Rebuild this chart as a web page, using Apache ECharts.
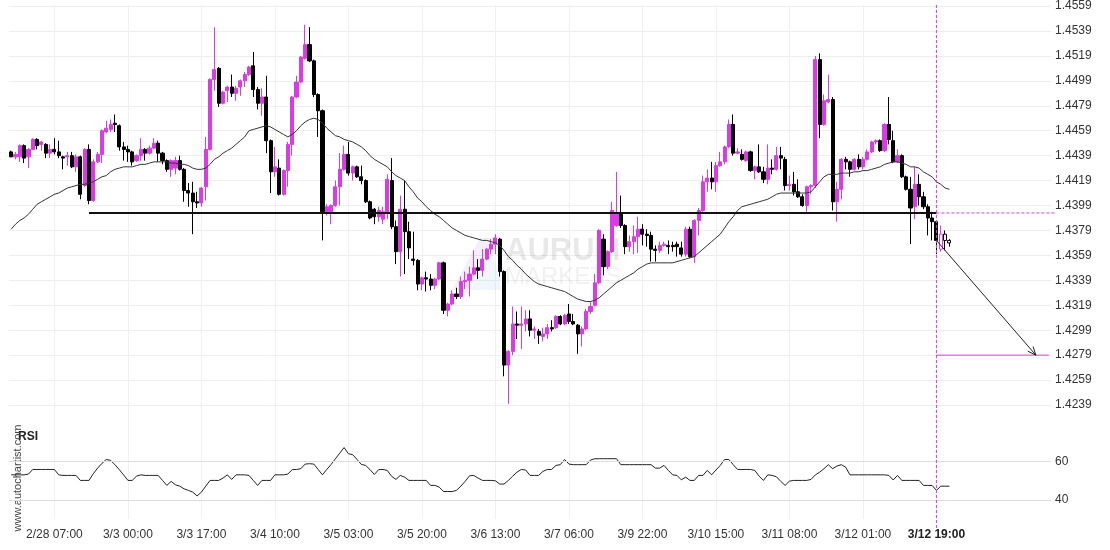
<!DOCTYPE html>
<html>
<head>
<meta charset="utf-8">
<script src="https://cdn.jsdelivr.net/npm/echarts@6/dist/echarts.min.js"></script>
<style>
html, body { margin: 0; padding: 0; background: #fff; }
#main { width: 1110px; height: 550px; }
</style>
</head>
<body>
<div id="main"></div>
<script>
// hourly candles, 2/27 21:00 .. 3/12 22:00
const openPrices = [
  1.4442,1.4438,1.4438,1.4447,1.4438,1.4444,1.4452,1.4448,1.4448,1.4441,
  1.4444,1.4442,1.4438,1.4438,1.4439,1.4430,1.4438,1.4415,1.4444,1.4403,
  1.4434,1.4440,1.4458,1.4460,1.4465,1.4463,1.4446,1.4444,1.4442,1.4435,
  1.4439,1.4444,1.4441,1.4445,1.4449,1.4441,1.4435,1.4428,1.4429,1.4435,
  1.4428,1.4411,1.4409,1.4402,1.4401,1.4414,1.4444,1.4500,1.4509,1.4481,
  1.4491,1.4494,1.4489,1.4494,1.4499,1.4504,1.4511,1.4492,1.4481,1.4486,
  1.4451,1.4426,1.4429,1.4408,1.4427,1.4448,1.4486,1.4498,1.4517,1.4528,
  1.4515,1.4488,1.4475,1.4394,1.4394,1.4399,1.4414,1.4428,1.4440,1.4425,
  1.4430,1.4422,1.4419,1.4402,1.4396,1.4390,1.4388,1.4394,1.4419,1.4382,
  1.4362,1.4396,1.4378,1.4356,1.4355,1.4336,1.4341,1.4340,1.4335,1.4340,
  1.4353,1.4315,1.4320,1.4328,1.4326,1.4338,1.4339,1.4344,1.4349,1.4347,
  1.4356,1.4364,1.4368,1.4372,1.4346,1.4271,1.4282,1.4304,1.4303,1.4304,
  1.4308,1.4299,1.4298,1.4294,1.4296,1.4301,1.4301,1.4310,1.4304,1.4312,
  1.4306,1.4303,1.4296,1.4300,1.4314,1.4319,1.4337,1.4372,1.4350,1.4362,
  1.4383,1.4392,1.4383,1.4366,1.4370,1.4374,1.4380,1.4376,1.4375,1.4364,
  1.4363,1.4367,1.4367,1.4367,1.4368,1.4365,1.4360,1.4380,1.4358,1.4387,
  1.4395,1.4418,1.4421,1.4418,1.4431,1.4434,1.4446,1.4464,1.4441,1.4440,
  1.4435,1.4442,1.4427,1.4430,1.4426,1.4420,1.4429,1.4428,1.4439,1.4436,
  1.4415,1.4416,1.4410,1.4406,1.4399,1.4414,1.4415,1.4516,1.4464,1.4482,
  1.4484,1.4402,1.4412,1.4436,1.4434,1.4428,1.4436,1.4430,1.4436,1.4442,
  1.4450,1.4451,1.4443,1.4464,1.4451,1.4434,1.4439,1.4422,1.4412,1.4398,
  1.4416,1.4406,1.4398,1.4389,1.4386,1.4364,1.4376,1.4371
];
const closePrices = [
  1.4438,1.4440,1.4447,1.4437,1.4444,1.4452,1.4447,1.4450,1.4441,1.4444,
  1.4442,1.4439,1.4437,1.4439,1.4430,1.4438,1.4408,1.4444,1.4403,1.4434,
  1.4440,1.4459,1.4461,1.4464,1.4464,1.4446,1.4444,1.4442,1.4434,1.4439,
  1.4444,1.4441,1.4445,1.4449,1.4441,1.4435,1.4428,1.4435,1.4435,1.4428,
  1.4411,1.4409,1.4402,1.4401,1.4413,1.4444,1.4500,1.4508,1.4481,1.4490,
  1.4494,1.4489,1.4493,1.4499,1.4504,1.4510,1.4492,1.4481,1.4486,1.4451,
  1.4426,1.4430,1.4408,1.4427,1.4448,1.4486,1.4498,1.4518,1.4528,1.4515,
  1.4488,1.4475,1.4394,1.4398,1.4399,1.4414,1.4428,1.4440,1.4425,1.4430,
  1.4422,1.4419,1.4402,1.4389,1.4390,1.4395,1.4394,1.4420,1.4382,1.4362,
  1.4396,1.4378,1.4365,1.4355,1.4336,1.4341,1.4340,1.4335,1.4340,1.4353,
  1.4315,1.4320,1.4328,1.4326,1.4338,1.4339,1.4344,1.4349,1.4347,1.4356,
  1.4364,1.4368,1.4373,1.4346,1.4271,1.4282,1.4304,1.4303,1.4304,1.4308,
  1.4299,1.4300,1.4295,1.4296,1.4301,1.4300,1.4310,1.4304,1.4311,1.4306,
  1.4304,1.4296,1.4300,1.4314,1.4318,1.4337,1.4379,1.4350,1.4362,1.4395,
  1.4392,1.4383,1.4366,1.4370,1.4374,1.4380,1.4376,1.4375,1.4364,1.4363,
  1.4367,1.4368,1.4366,1.4366,1.4366,1.4360,1.4380,1.4358,1.4387,1.4395,
  1.4418,1.4421,1.4418,1.4431,1.4434,1.4446,1.4464,1.4441,1.4442,1.4436,
  1.4442,1.4427,1.4430,1.4426,1.4420,1.4429,1.4428,1.4439,1.4437,1.4415,
  1.4416,1.4410,1.4406,1.4399,1.4414,1.4415,1.4516,1.4464,1.4483,1.4484,
  1.4402,1.4412,1.4436,1.4434,1.4428,1.4436,1.4430,1.4436,1.4442,1.4450,
  1.4451,1.4443,1.4464,1.4452,1.4434,1.4439,1.4422,1.4412,1.4397,1.4416,
  1.4406,1.4398,1.4389,1.4386,1.4371,1.4376,1.4371,1.4369
];
const lowPrices = [
  1.4438,1.4436,1.4434,1.4433,1.4429,1.4444,1.4444,1.4443,1.4437,1.4437,
  1.4440,1.4437,1.4428,1.4431,1.4429,1.4426,1.4404,1.4414,1.4400,1.4402,
  1.4433,1.4433,1.4457,1.4458,1.4458,1.4443,1.4435,1.4434,1.4431,1.4434,
  1.4435,1.4435,1.4440,1.4444,1.4434,1.4432,1.4426,1.4422,1.4424,1.4427,
  1.4402,1.4398,1.4376,1.4397,1.4398,1.4403,1.4443,1.4491,1.4478,1.4480,
  1.4482,1.4486,1.4483,1.4487,1.4494,1.4503,1.4486,1.4476,1.4471,1.4441,
  1.4409,1.4422,1.4407,1.4407,1.4414,1.4439,1.4485,1.4497,1.4516,1.4514,
  1.4486,1.4454,1.4371,1.4391,1.4384,1.4398,1.4399,1.4427,1.4423,1.4419,
  1.4421,1.4416,1.4401,1.4388,1.4384,1.4386,1.4384,1.4388,1.4380,1.4352,
  1.4342,1.4344,1.4356,1.4351,1.4331,1.4331,1.4330,1.4331,1.4332,1.4339,
  1.4312,1.4310,1.4319,1.4324,1.4324,1.4332,1.4326,1.4343,1.4340,1.4342,
  1.4355,1.4360,1.4360,1.4342,1.4262,1.4240,1.4279,1.4292,1.4284,1.4298,
  1.4294,1.4292,1.4288,1.4290,1.4292,1.4298,1.4300,1.4303,1.4303,1.4304,
  1.4303,1.4280,1.4286,1.4299,1.4312,1.4318,1.4336,1.4343,1.4348,1.4361,
  1.4382,1.4381,1.4360,1.4362,1.4360,1.4361,1.4367,1.4366,1.4354,1.4354,
  1.4361,1.4366,1.4360,1.4362,1.4358,1.4358,1.4358,1.4357,1.4353,1.4375,
  1.4394,1.4410,1.4412,1.4410,1.4430,1.4432,1.4445,1.4439,1.4440,1.4435,
  1.4434,1.4426,1.4420,1.4425,1.4417,1.4416,1.4424,1.4427,1.4428,1.4411,
  1.4411,1.4407,1.4405,1.4398,1.4394,1.4408,1.4413,1.4453,1.4463,1.4481,
  1.4395,1.4386,1.4404,1.4428,1.4422,1.4427,1.4428,1.4428,1.4435,1.4441,
  1.4448,1.4442,1.4442,1.4448,1.4433,1.4433,1.4421,1.4411,1.4368,1.4388,
  1.4399,1.4396,1.4375,1.4371,1.4360,1.4362,1.4363,1.4366
];
const highPrices = [
  1.4443,1.4442,1.4448,1.4448,1.4445,1.4453,1.4453,1.4451,1.4449,1.4448,
  1.4453,1.4451,1.4439,1.4442,1.4442,1.4440,1.4439,1.4445,1.4448,1.4436,
  1.4442,1.4460,1.4467,1.4468,1.4472,1.4464,1.4450,1.4447,1.4443,1.4440,
  1.4453,1.4445,1.4447,1.4453,1.4451,1.4442,1.4436,1.4436,1.4438,1.4439,
  1.4429,1.4417,1.4418,1.4410,1.4414,1.4454,1.4501,1.4542,1.4510,1.4491,
  1.4495,1.4504,1.4495,1.4500,1.4506,1.4511,1.4522,1.4494,1.4493,1.4503,
  1.4452,1.4446,1.4436,1.4428,1.4450,1.4487,1.4503,1.4519,1.4544,1.4542,
  1.4516,1.4489,1.4476,1.4400,1.4400,1.4419,1.4441,1.4447,1.4450,1.4431,
  1.4431,1.4431,1.4420,1.4403,1.4397,1.4398,1.4398,1.4424,1.4437,1.4387,
  1.4407,1.4419,1.4386,1.4378,1.4356,1.4342,1.4346,1.4344,1.4341,1.4354,
  1.4354,1.4321,1.4331,1.4333,1.4342,1.4346,1.4350,1.4363,1.4356,1.4364,
  1.4365,1.4372,1.4376,1.4373,1.4347,1.4283,1.4318,1.4314,1.4318,1.4315,
  1.4315,1.4302,1.4300,1.4301,1.4304,1.4307,1.4311,1.4311,1.4312,1.4320,
  1.4312,1.4304,1.4302,1.4316,1.4322,1.4344,1.4380,1.4376,1.4363,1.4402,
  1.4426,1.4407,1.4384,1.4375,1.4383,1.4390,1.4384,1.4380,1.4378,1.4367,
  1.4370,1.4370,1.4371,1.4370,1.4370,1.4370,1.4382,1.4382,1.4388,1.4397,
  1.4423,1.4428,1.4434,1.4434,1.4442,1.4447,1.4468,1.4472,1.4445,1.4444,
  1.4443,1.4443,1.4431,1.4448,1.4430,1.4448,1.4436,1.4446,1.4446,1.4438,
  1.4423,1.4426,1.4420,1.4408,1.4415,1.4416,1.4519,1.4521,1.4488,1.4504,
  1.4486,1.4418,1.4437,1.4438,1.4435,1.4437,1.4440,1.4438,1.4444,1.4451,
  1.4452,1.4452,1.4465,1.4486,1.4459,1.4444,1.4440,1.4423,1.4422,1.4430,
  1.4424,1.4410,1.4400,1.4394,1.4387,1.4383,1.4379,1.4372
];
const maValues = [
  1.4380,1.4384,1.4387,1.4389,1.4392,1.4396,1.4400,1.4402,1.4404,1.4406,
  1.4408,1.4409,1.4411,1.4413,1.4414,1.4415,1.4416,1.4416,1.4417,1.4418,
  1.4420,1.4422,1.4423,1.4426,1.4428,1.4429,1.4430,1.4430,1.4430,1.4431,
  1.4432,1.4432,1.4433,1.4434,1.4434,1.4434,1.4434,1.4433,1.4433,1.4432,
  1.4432,1.4431,1.4429,1.4428,1.4428,1.4429,1.4432,1.4436,1.4438,1.4441,
  1.4443,1.4445,1.4448,1.4451,1.4454,1.4459,1.4460,1.4461,1.4462,1.4463,
  1.4462,1.4460,1.4458,1.4456,1.4454,1.4456,1.4459,1.4463,1.4466,1.4468,
  1.4469,1.4468,1.4465,1.4461,1.4458,1.4455,1.4454,1.4452,1.4451,1.4450,
  1.4448,1.4446,1.4443,1.4439,1.4436,1.4434,1.4432,1.4430,1.4426,1.4423,
  1.4421,1.4419,1.4414,1.4410,1.4405,1.4402,1.4398,1.4395,1.4392,1.4390,
  1.4387,1.4384,1.4381,1.4379,1.4377,1.4375,1.4374,1.4373,1.4372,1.4371,
  1.4371,1.4370,1.4369,1.4367,1.4363,1.4358,1.4355,1.4351,1.4348,1.4344,
  1.4341,1.4338,1.4336,1.4335,1.4334,1.4333,1.4332,1.4331,1.4330,1.4328,
  1.4326,1.4324,1.4323,1.4322,1.4322,1.4323,1.4325,1.4328,1.4331,1.4334,
  1.4337,1.4339,1.4341,1.4343,1.4345,1.4348,1.4350,1.4352,1.4353,1.4353,
  1.4353,1.4353,1.4353,1.4353,1.4354,1.4355,1.4356,1.4357,1.4358,1.4361,
  1.4364,1.4367,1.4370,1.4373,1.4376,1.4381,1.4386,1.4390,1.4395,1.4398,
  1.4399,1.4400,1.4401,1.4402,1.4403,1.4404,1.4406,1.4408,1.4409,1.4409,
  1.4409,1.4409,1.4409,1.4409,1.4409,1.4410,1.4414,1.4418,1.4422,1.4424,
  1.4424,1.4424,1.4425,1.4425,1.4425,1.4426,1.4426,1.4427,1.4427,1.4428,
  1.4429,1.4430,1.4432,1.4433,1.4434,1.4434,1.4433,1.4432,1.4430,1.4430,
  1.4429,1.4426,1.4424,1.4422,1.4418,1.4416,1.4413,1.4412
];
const rsiValues = [
  53.0,53.0,53.0,53.0,53.4,55.8,55.8,55.8,55.8,55.8,
  55.8,53.0,52.7,52.7,52.7,52.7,50.1,50.1,50.1,53.6,
  56.5,59.0,61.0,60.5,58.3,55.7,53.0,50.1,50.1,52.3,
  53.0,52.7,52.7,52.7,52.7,50.1,47.5,49.6,47.8,47.1,
  45.7,44.9,44.0,42.0,44.0,47.1,50.1,50.1,50.1,51.3,
  53.0,50.6,53.0,53.0,53.0,52.7,50.1,47.5,50.1,50.1,
  50.1,53.0,53.0,53.0,53.4,55.7,55.8,56.2,58.6,58.8,
  58.6,55.8,53.0,55.8,58.4,61.4,64.3,67.2,64.0,63.5,
  61.0,58.4,57.9,55.7,53.2,55.7,55.8,55.3,52.2,50.6,
  52.7,51.8,50.1,50.1,50.1,50.1,50.1,47.5,47.5,46.6,
  44.3,44.3,44.3,44.9,47.1,49.6,52.5,52.7,51.3,50.1,
  50.1,50.1,49.9,48.2,48.2,50.1,52.3,54.4,55.8,55.5,
  52.7,52.7,52.7,54.8,55.8,55.8,57.9,58.3,61.0,58.6,
  58.3,58.3,58.3,58.3,60.7,61.4,61.4,61.4,61.4,61.4,
  61.4,58.3,58.3,58.3,58.3,58.3,58.3,58.3,58.3,56.5,
  56.5,57.9,55.3,53.0,52.7,50.4,51.8,50.1,50.1,52.7,
  52.7,55.3,53.0,55.5,57.9,61.0,61.0,58.3,55.8,55.8,
  55.8,55.8,55.3,52.3,50.1,53.0,52.7,52.0,49.6,47.5,
  49.7,50.1,50.1,50.1,50.1,50.6,53.0,54.4,56.2,58.3,
  56.2,57.6,58.3,57.0,53.0,53.0,53.0,53.0,53.0,53.0,
  53.0,53.0,53.0,52.7,50.3,52.7,50.1,50.1,50.1,50.1,
  50.1,47.5,47.5,47.5,44.9,47.1,47.1,47.1
];
const xTickIndex = [10, 27, 44, 61, 78, 95, 112, 129, 146, 163, 180, 197, 214];
const xTickText = ['2/28 07:00', '3/3 00:00', '3/3 17:00', '3/4 10:00', '3/5 03:00', '3/5 20:00',
  '3/6 13:00', '3/7 06:00', '3/9 22:00', '3/10 15:00', '3/11 08:00', '3/12 01:00', '3/12 19:00'];
const supportLevel = 1.4393;
const supportFrom = 18;
const targetLevel = 1.4279;
const signalIndex = 214;
const arrowEndIndex = 237;
const targetEndIndex = 240;
const hollowFrom = 215;

const slotCount = 241;
const categories = Array.from({ length: slotCount }, (_, i) => String(i));
const MAGENTA = '#dc3ae6';
const FONT = 'Liberation Sans, Arial, sans-serif';

const candleData = openPrices.map((o, i) => {
  const item = { value: [o, closePrices[i], lowPrices[i], highPrices[i]] };
  if (i >= hollowFrom) item.itemStyle = { color: '#fff', color0: '#fff' };
  return item;
});

const mainGrid = { left: 9, width: 1042, top: 5, height: 400 };
const rsiGrid = { left: 9, width: 1042, top: 423, height: 96 };
const isTick = (i) => xTickIndex.indexOf(i) >= 0;

const chart = echarts.init(document.getElementById('main'));
chart.setOption({
  animation: false,
  backgroundColor: '#fff',
  textStyle: { fontFamily: FONT },
  grid: [mainGrid, rsiGrid],
  xAxis: [{
    type: 'category', gridIndex: 0, data: categories, boundaryGap: true,
    axisLine: { show: false }, axisTick: { show: false, alignWithLabel: true }, axisLabel: { show: false },
    splitLine: { show: false }
  }, {
    type: 'category', gridIndex: 1, data: categories, boundaryGap: true,
    axisLine: { show: false }, axisTick: { show: false, alignWithLabel: true },
    splitLine: { show: false },
    axisLabel: {
      interval: (i) => isTick(i), margin: 10, color: '#333', fontSize: 12, fontFamily: FONT,
      formatter: (v) => {
        const k = xTickIndex.indexOf(Number(v));
        if (k < 0) return '';
        return Number(v) === signalIndex ? '{b|' + xTickText[k] + '}' : xTickText[k];
      },
      rich: { b: { fontWeight: 'bold', fontSize: 12, color: '#222', fontFamily: FONT } }
    }
  }],
  yAxis: [{
    type: 'value', gridIndex: 0, position: 'right',
    min: 1.4239, max: 1.4559, interval: 0.002,
    axisLine: { show: false }, axisTick: { show: false },
    axisLabel: { color: '#333', fontSize: 12, margin: 4, fontFamily: FONT, formatter: (v) => v.toFixed(4) },
    splitLine: { lineStyle: { color: '#eeeeee' } }
  }, {
    type: 'value', gridIndex: 1, position: 'right',
    min: 30, max: 80, interval: 10,
    axisLine: { show: false }, axisTick: { show: false },
    axisLabel: { color: '#333', fontSize: 12, margin: 4, fontFamily: FONT,
      formatter: (v) => (v === 40 || v === 60) ? String(v) : '' },
    splitLine: { show: false }
  }],
  series: [{
    name: 'price', type: 'candlestick', xAxisIndex: 0, yAxisIndex: 0,
    data: candleData, barWidth: 3.6,
    itemStyle: { color: MAGENTA, color0: '#000', borderColor: MAGENTA, borderColor0: '#000', borderWidth: 1 },
    markLine: {
      silent: true, symbol: ['none', 'none'], label: { show: false },
      lineStyle: { color: '#111', width: 2, type: 'solid' },
      data: [[{ coord: [supportFrom, supportLevel] }, { coord: [signalIndex, supportLevel] }]]
    },
    z: 3
  }, {
    name: 'MA', type: 'line', xAxisIndex: 0, yAxisIndex: 0,
    data: maValues, symbol: 'none', lineStyle: { color: '#333', width: 1 }, z: 4
  }, {
    name: 'RSI', type: 'line', xAxisIndex: 1, yAxisIndex: 1,
    data: rsiValues, symbol: 'none', lineStyle: { color: '#222', width: 1 },
    markLine: {
      silent: true, symbol: ['none', 'none'], label: { show: false },
      lineStyle: { color: '#dddddd', width: 1, type: 'solid' },
      data: [{ yAxis: 40 }, { yAxis: 60 }]
    }
  }]
});

// annotations placed through the axes
const toPx = (i, v) => chart.convertToPixel({ gridIndex: 0 }, [i, v]);
const [sx, sy] = toPx(signalIndex, closePrices[signalIndex]);
const supY = toPx(signalIndex, supportLevel)[1];
const [ax, ay] = toPx(arrowEndIndex, targetLevel);
const tEnd = toPx(targetEndIndex, targetLevel)[0];
const gridRight = mainGrid.left + mainGrid.width;
const ang = Math.atan2(ay - sy, ax - sx);
const headLen = 9;
const head = (d) => [ax - headLen * Math.cos(ang + d), ay - headLen * Math.sin(ang + d)];

// faint vertical grid lines at the time labels, through both panels
const vGrid = xTickIndex.map((i) => {
  const x = Math.round(toPx(i, supportLevel)[0]) + 0.5;
  return { type: 'line', z: 0, silent: true,
    shape: { x1: x, y1: mainGrid.top, x2: x, y2: rsiGrid.top + rsiGrid.height },
    style: { stroke: '#f0f0f0', lineWidth: 1 } };
});

chart.setOption({
  graphic: vGrid.concat([
    // watermark
    { type: 'polygon', z: 0, silent: true,
      shape: { points: [[452, 290], [480, 238], [492, 238], [470, 290]] },
      style: { fill: 'rgba(190,170,240,0.18)' } },
    { type: 'polygon', z: 0, silent: true,
      shape: { points: [[470, 290], [492, 250], [502, 290]] },
      style: { fill: 'rgba(170,210,240,0.18)' } },
    { type: 'text', z: 0, silent: true, left: 505, top: 236,
      style: { text: 'AURUM', font: 'bold 31px ' + FONT, fill: 'rgba(0,0,0,0.09)' } },
    { type: 'text', z: 0, silent: true, left: 505, top: 265,
      style: { text: 'MARKETS', font: '24px ' + FONT, fill: 'rgba(0,0,0,0.06)' } },
    // panel texts
    { type: 'text', left: 18, top: 431,
      style: { text: 'RSI', font: 'bold 12px ' + FONT, fill: '#222' } },
    { type: 'text', x: 18, y: 478, rotation: Math.PI / 2,
      style: { text: 'www.autochartist.com', font: '11px ' + FONT, fill: '#444',
        textAlign: 'center', textVerticalAlign: 'middle' } },
    // signal lines
    { type: 'line', z: 20, silent: true,
      shape: { x1: sx, y1: mainGrid.top, x2: sx, y2: rsiGrid.top + rsiGrid.height + 9 },
      style: { stroke: MAGENTA, lineWidth: 1, lineDash: [3, 2] } },
    { type: 'line', z: 20, silent: true,
      shape: { x1: sx, y1: supY, x2: gridRight + 4, y2: supY },
      style: { stroke: MAGENTA, lineWidth: 1, lineDash: [3, 2] } },
    { type: 'line', z: 20, silent: true,
      shape: { x1: sx, y1: ay, x2: tEnd, y2: ay },
      style: { stroke: MAGENTA, lineWidth: 1 } },
    { type: 'line', z: 20, silent: true,
      shape: { x1: sx, y1: sy, x2: ax, y2: ay },
      style: { stroke: '#222', lineWidth: 1 } },
    { type: 'polyline', z: 20, silent: true,
      shape: { points: [head(0.4), [ax, ay], head(-0.4)] },
      style: { stroke: '#222', lineWidth: 1, fill: null } }
  ])
});
</script>
</body>
</html>
